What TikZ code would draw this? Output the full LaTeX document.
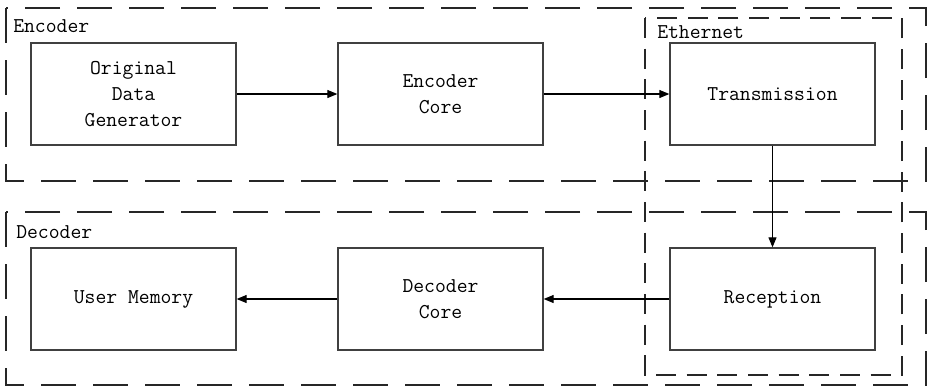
\documentclass[tikz,border=0pt]{standalone}
\usetikzlibrary{arrows.meta}
\begin{document}
\begin{tikzpicture}[x=0.75pt,y=-0.75pt,
  every node/.style={font=\fontsize{15.8}{19.5}\selectfont\ttfamily, text=black},
  block/.style={draw=black!75, line width=1pt, minimum width=153.75pt, minimum height=76.5pt, align=center, inner sep=0pt},
  group/.style={draw=black!85, line width=1.6pt, dash pattern=on 26pt off 13pt},
  inner group/.style={draw=black!85, line width=1.6pt, dash pattern=on 15pt off 8pt},
  flow/.style={draw=black, line width=0.8pt, -{Triangle[length=7.5pt,width=6pt]}},
  tag/.style={anchor=west, inner sep=0pt}]
\useasboundingbox (0,0) rectangle (928,387);

% group frames
\draw[group] (6,8) rectangle (926,181);
\draw[group] (6,212) rectangle (926,385);
\draw[inner group] (645,18) rectangle (902,375);

% group captions
\node[tag] (enc) at (13,26) {Encoder};
\node[tag] (eth) at (657,32) {Ethernet};
\node[tag] (dec) at (16,232) {Decoder};

% blocks
\node[block] (gen) at (133.5,94) {Original\\Data\\Generator};
\node[block] (ecore) at (440.5,94) {Encoder\\Core};
\node[block] (tx) at (772.5,94) {Transmission};
\node[block] (rx) at (772.5,299) {Reception};
\node[block] (dcore) at (440.5,299) {Decoder\\Core};
\node[block] (mem) at (133.5,299) {User Memory};

% data flow
\draw[flow] (gen) -- (ecore);
\draw[flow] (ecore) -- (tx);
\draw[flow] (tx) -- (rx);
\draw[flow] (rx) -- (dcore);
\draw[flow] (dcore) -- (mem);
\end{tikzpicture}
\end{document}
